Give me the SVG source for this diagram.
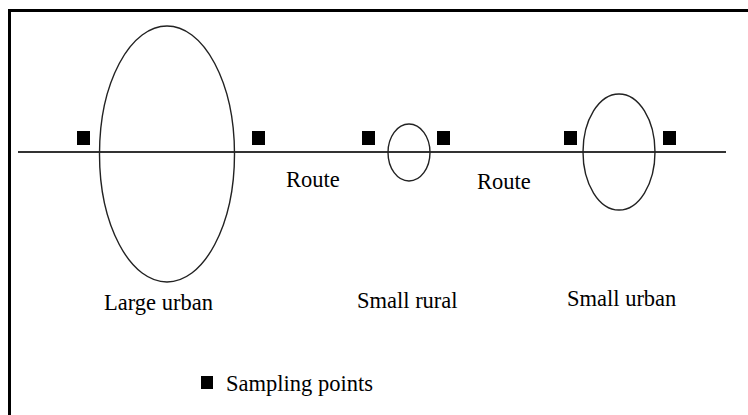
<svg xmlns="http://www.w3.org/2000/svg" width="748" height="415" viewBox="0 0 748 415">
<style>
.frame{fill:none;stroke:#000;stroke-width:3}
.route{fill:none;stroke:#333;stroke-width:2}
.area{fill:none;stroke:#222;stroke-width:1.4}
.pt{fill:#000}
.lbl{font-family:"Liberation Serif","Times New Roman",serif;font-size:22.5px;fill:#000}
</style>
<rect width="748" height="415" fill="#fff"/>
<path class="frame" d="M9.5,415 V10.5 H748"/>
<g id="connectors">
<line class="route" x1="18" y1="152" x2="726" y2="152"/>
</g>
<g id="large-urban">
<ellipse class="area" cx="167" cy="154" rx="67.5" ry="128"/>
<rect class="pt" x="77" y="131" width="13" height="14"/>
<rect class="pt" x="252" y="131" width="13" height="14"/>
<text class="lbl" x="104" y="310">Large urban</text>
</g>
<g id="small-rural">
<ellipse class="area" cx="409" cy="152.5" rx="21" ry="28.5"/>
<rect class="pt" x="362" y="131" width="13" height="14"/>
<rect class="pt" x="437" y="131" width="13" height="14"/>
<text class="lbl" x="357" y="308">Small rural</text>
</g>
<g id="small-urban">
<ellipse class="area" cx="619" cy="152" rx="36" ry="58"/>
<rect class="pt" x="564" y="131" width="13" height="14"/>
<rect class="pt" x="663" y="131" width="13" height="14"/>
<text class="lbl" x="567" y="306">Small urban</text>
</g>
<g id="route-labels">
<text class="lbl" x="286" y="187">Route</text>
<text class="lbl" x="477" y="189">Route</text>
</g>
<g id="legend">
<rect class="pt" x="201" y="376" width="12" height="13"/>
<text class="lbl" x="226" y="391">Sampling points</text>
</g>
</svg>
